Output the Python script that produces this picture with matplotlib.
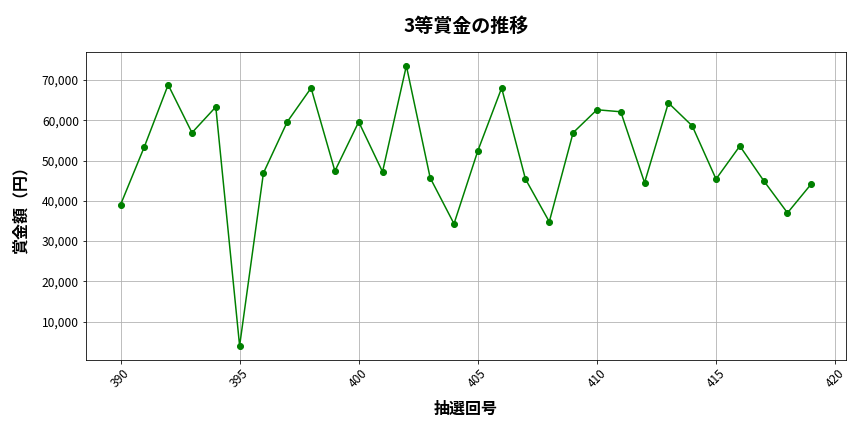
import matplotlib
matplotlib.use("Agg")
import matplotlib.pyplot as plt
from matplotlib.ticker import FuncFormatter

plt.rcParams['font.family'] = ['Noto Sans CJK JP', 'DejaVu Sans']

draws = list(range(390, 420))
prizes = [39000, 53400, 68800, 56900, 63300, 4000, 46900, 59600, 68000, 47400,
          59600, 47200, 73500, 45700, 34300, 52400, 68000, 45400, 34800, 56900,
          62600, 62100, 44500, 64300, 58600, 45400, 53600, 45000, 37000, 44200]

fig, ax = plt.subplots(figsize=(12, 6), dpi=72)
fig.subplots_adjust(left=0.0995, right=0.979, top=0.880, bottom=0.167)

ax.plot(draws, prizes, color="green", marker="o", markersize=6, linewidth=1.5)
ax.set_title("3等賞金の推移", fontsize=19, fontweight="bold", pad=20)
ax.set_xlabel("抽選回号", fontsize=16, fontweight="bold", labelpad=11)
ax.set_ylabel("賞金額（円）", fontsize=16, fontweight="bold", labelpad=13)
ax.yaxis.set_major_formatter(FuncFormatter(lambda v, p: f"{int(v):,}"))
ax.tick_params(axis="x", rotation=45, labelsize=12)
ax.tick_params(axis="y", labelsize=12)
ax.grid(True, color="#b0b0b0", linewidth=0.8)

fig.savefig("out.png", dpi=72)
